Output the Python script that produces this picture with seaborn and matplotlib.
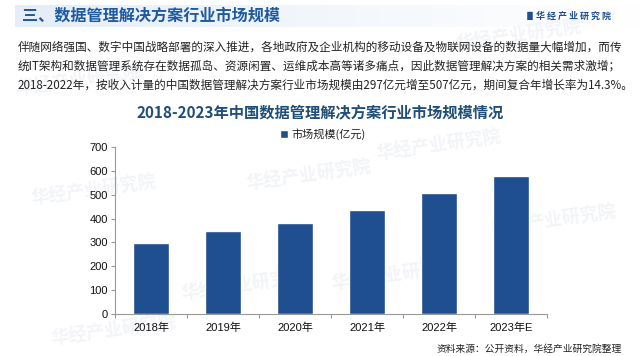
import matplotlib
matplotlib.use("Agg")
import matplotlib.pyplot as plt
import numpy as np
import pandas as pd
import seaborn as sns
from matplotlib.colors import LinearSegmentedColormap

years = ["2018年", "2019年", "2020年", "2021年", "2022年", "2023年E"]
market_size = [297, 350, 380, 437, 507, 580]
yticks = [0, 100, 200, 300, 400, 500, 600, 700]
legend_label = "市场规模(亿元)"
header = "三、数据管理解决方案行业市场规模"
para_lines = [
    "伴随网络强国、数字中国战略部署的深入推进，各地政府及企业机构的移动设备及物联网设备的数据量大幅增加，而传",
    "统IT架构和数据管理系统存在数据孤岛、资源闲置、运维成本高等诸多痛点，因此数据管理解决方案的相关需求激增；",
    "2018-2022年，按收入计量的中国数据管理解决方案行业市场规模由297亿元增至507亿元，期间复合年增长率为14.3%。",
]
chart_title = "2018-2023年中国数据管理解决方案行业市场规模情况"
source = "资料来源：公开资料，华经产业研究院整理"
brand = "华 经 产 业 研 究 院"

sns.set_style("white")
CJK = ["Noto Sans CJK SC", "DejaVu Sans"]
LAT = ["Liberation Sans", "Noto Sans CJK SC"]
plt.rcParams["font.family"] = CJK

W, H = 640, 356
fig = plt.figure(figsize=(W / 100, H / 100), dpi=100)
fig.patch.set_facecolor("white")

def fx(x):
    return x / W

def fy(y):
    return 1 - y / H

# header band gradient
band = fig.add_axes([fx(15), fy(27), fx(625), 22 / H])
grad = np.linspace(0, 1, 256).reshape(1, -1)
cmap = LinearSegmentedColormap.from_list("b", ["#e4edf8", "#f3f7fc", "#ffffff"])
band.imshow(grad, aspect="auto", cmap=cmap, extent=[0, 1, 0, 1])
band.axis("off")
band.set_zorder(-2)

# faint watermarks
wm_color = "#f2f4f8"
for (x, y) in [(15, 95), (30, 205), (50, 345), (245, 190), (375, 160), (455, 50),
               (490, 235), (330, 290), (180, 300)]:
    fig.text(fx(x), fy(y), "华经产业研究院", fontsize=13, color=wm_color,
             rotation=8, fontweight="bold", zorder=-1)

fig.text(fx(22), fy(16), header, fontsize=11.6, fontweight="bold",
         color="#1f5aa0", va="center", ha="left")
fig.text(fx(524), fy(16), "▐▌", fontsize=6, color="#1f4e91", va="center",
         ha="left", family=["DejaVu Sans"])
fig.text(fx(536), fy(16), brand, fontsize=6.5, fontweight="bold",
         color="#1f4e91", va="center", ha="left")

for i, line in enumerate(para_lines):
    fig.text(fx(18), fy(47 + 19 * i), line, fontsize=8.35, color="#222222",
             va="center", ha="left")

fig.text(fx(320), fy(113), chart_title, fontsize=11, fontweight="bold",
         color="#1f4e79", va="center", ha="center")

fig.text(fx(437), fy(349), source, fontsize=7, color="#222222",
         va="center", ha="left")

ax = fig.add_axes([fx(115), fy(314), fx(432), (314 - 147) / H])
ax.set_zorder(1)
ax.patch.set_alpha(0)
df = pd.DataFrame({"year": years, "value": market_size})
sns.barplot(data=df, x="year", y="value", color="#1f4e91", width=0.5,
            saturation=1, ax=ax, label=legend_label)
ax.set_ylim(0, 700)
ax.set_xlim(-0.5, len(years) - 0.5)
ax.set_yticks(yticks)
ax.set_xlabel("")
ax.set_ylabel("")
for s in ["top", "right"]:
    ax.spines[s].set_visible(False)
for s in ["left", "bottom"]:
    ax.spines[s].set_color("#999999")
    ax.spines[s].set_linewidth(0.8)
ax.tick_params(axis="y", length=3, width=0.8, color="#999999", pad=2,
               labelsize=8, left=True)
ax.tick_params(axis="x", length=0, pad=6, labelsize=8)
for lab in ax.get_xticklabels() + ax.get_yticklabels():
    lab.set_family(LAT)
    lab.set_color("#111111")
ax.set_xticks(np.arange(-0.5, len(years), 1), minor=True)
ax.tick_params(axis="x", which="minor", length=3, width=0.8, color="#999999",
               bottom=True)

leg = ax.legend(loc="lower center", bbox_to_anchor=(fx(323 - 115) / (432 / W), 1.0),
                frameon=False, fontsize=8, handlelength=0.7, handleheight=0.7,
                handletextpad=0.3, borderaxespad=0.2)
for t in leg.get_texts():
    t.set_color("#222222")

fig.savefig("out.png", dpi=100)
